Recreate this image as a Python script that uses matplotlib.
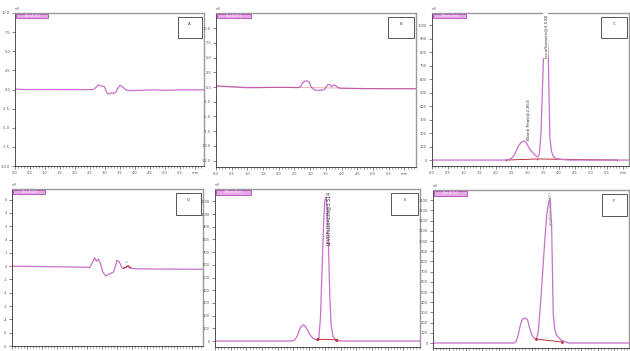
import matplotlib
matplotlib.use('Agg')
import matplotlib.pyplot as plt
import numpy as np
from matplotlib.patches import Rectangle

# values (time in min, signal)
t_a = [0.0, 0.3, 2.5, 2.62, 2.72, 2.77, 2.83, 2.9, 2.97, 3.02, 3.07, 3.13, 3.2, 3.3, 3.37, 3.45, 3.5, 3.57, 3.64,
       3.72, 3.85, 4.2, 4.6, 5.0, 5.5, 6.3]
y_a = [0.05, 0.0, -0.02, 0.0, 0.35, 0.62, 0.5, 0.45, 0.4, 0.0, -0.5, -0.6, -0.45, -0.5, -0.3, 0.3, 0.55, 0.4, 0.15,
       -0.1, -0.15, -0.1, -0.05, -0.1, -0.05, -0.05]

t_b = [0.0, 0.5, 0.9, 1.3, 1.8, 2.3, 2.6, 2.7, 2.75, 2.82, 2.9, 2.97, 3.02, 3.07, 3.15, 3.3, 3.45, 3.52, 3.56, 3.62,
       3.67, 3.7, 3.74, 3.8, 3.86, 3.95, 4.5, 5.5, 6.4]
y_b = [0.2, 0.05, -0.1, -0.1, -0.05, -0.05, -0.1, 0.1, 0.7, 1.0, 1.05, 0.8, 0.1, -0.2, -0.5, -0.55, -0.45, 0.1, 0.4,
       0.45, 0.1, 0.1, 0.35, 0.3, 0.0, -0.2, -0.25, -0.3, -0.3]

t_c = [0.0, 2.3, 2.4, 2.5, 2.6, 2.7, 2.8, 2.9, 2.97, 3.05, 3.12, 3.2, 3.28, 3.33, 3.38, 3.43, 3.48, 3.52, 3.56, 3.59,
       3.62, 3.66, 3.71, 3.76, 3.82, 3.9, 4.05, 4.3, 6.2]
y_c = [0, 0, 3, 12, 40, 95, 130, 142, 128, 92, 68, 48, 30, 22, 45, 200, 560, 840, 1010, 1035, 960, 760, 170, 65, 25,
       12, 5, 0, 0]

t_d = [0.0, 1.0, 2.5, 2.59, 2.68, 2.76, 2.81, 2.88, 2.96, 3.03, 3.12, 3.26, 3.39, 3.46, 3.5, 3.57, 3.61, 3.68, 3.76,
       3.87, 3.94, 4.14, 5.0, 6.4]
y_d = [0.0, -0.03, -0.08, -0.1, 0.28, 0.63, 0.38, 0.53, 0.13, -0.43, -0.73, -0.58, -0.43, 0.08, 0.45, 0.33, 0.18,
       -0.18, -0.13, -0.03, -0.15, -0.2, -0.22, -0.23]

t_e = [0.0, 2.45, 2.54, 2.62, 2.7, 2.77, 2.83, 2.89, 2.96, 3.04, 3.12, 3.2, 3.27, 3.31, 3.36, 3.41, 3.46, 3.5, 3.54,
       3.58, 3.62, 3.66, 3.7, 3.76, 3.85, 4.0, 6.6]
y_e = [0, 0, 8, 40, 95, 122, 126, 112, 80, 45, 22, 12, 10, 25, 190, 560, 930, 1110, 1135, 1020, 700, 330, 120, 35,
       10, 0, 0]

t_f = [0.0, 2.45, 2.52, 2.58, 2.64, 2.7, 2.76, 2.82, 2.87, 2.93, 3.0, 3.08, 3.14, 3.2, 3.29, 3.39, 3.45, 3.5, 3.55,
       3.6, 3.65, 3.7, 3.75, 3.9, 4.1, 6.1]
y_f = [0, 0, 15, 70, 160, 225, 245, 240, 230, 150, 80, 45, 38, 120, 500, 990, 1250, 1360, 1420, 1160, 280, 130, 78,
       25, 0, 0]

# integration baselines (red)
base_c_t = [2.32, 3.32, 5.83]
base_c_y = [0, 8, 0]
base_d_t = [3.72, 3.8, 3.87, 3.95]
base_d_y = [-0.15, -0.05, 0.05, -0.12]
base_e_t = [3.26, 3.85]
base_e_y = [14, 10]
base_f_t = [3.14, 3.91]
base_f_y = [38, 10]

peak_labels = {'C': ['Blank Peak@2.853', 'Levofloxacin@3.528'],
               'E': ['LEVOFLOXACIN@3.514'],
               'F': ['Levofloxacin@3.557']}
channel = ['Det.A Ch1', 'Det.A Ch1', '290nm,4nm', 'Det.A Ch1', '290nm,4nm', 'Det.A Ch1']

purple = '#c870cc'
red = '#b8323c'

fig = plt.figure(figsize=(6.3, 3.51), dpi=100)


def px_rect(l, t, r, b):
    return [l / 630, 1 - b / 351, (r - l) / 630, (b - t) / 351]


def style(ax, xmax, ylim, yticks, ylabels, letter, chan, xlabels=True):
    ax.set_xlim(0, xmax)
    ax.set_ylim(*ylim)
    xt = np.arange(0, xmax - 0.05, 0.5)
    ax.set_xticks(xt)
    xl = ['%.1f' % v for v in xt]
    xl[-1] = 'min'
    ax.set_xticklabels(xl)
    ax.set_xticks(np.arange(0, xmax, 0.1), minor=True)
    ax.set_yticks(yticks)
    ax.set_yticklabels(ylabels)
    ax.tick_params(axis='both', labelsize=2.6, length=2, width=0.5, pad=1.5, colors='#555555')
    ax.tick_params(axis='x', which='minor', length=1.2, width=0.4, colors='#555555')
    if not xlabels:
        # bottom row: labels fall below the picture in the original
        ax.tick_params(axis='x', labelbottom=False)
    for s in ['top', 'right']:
        ax.spines[s].set_color('#999999')
        ax.spines[s].set_linewidth(1.0)
    for s in ['left', 'bottom']:
        ax.spines[s].set_color('#333333')
        ax.spines[s].set_linewidth(0.6)
    # panel letter box
    ax.add_patch(Rectangle((0.86, 0.835), 0.13, 0.14, transform=ax.transAxes, fill=False,
                           edgecolor='#555555', linewidth=0.7, zorder=5))
    ax.text(0.925, 0.93, letter, transform=ax.transAxes, ha='center', va='center', fontsize=3, color='#444444')
    # channel tag
    ax.add_patch(Rectangle((0.005, 0.965), 0.17, 0.03, transform=ax.transAxes, facecolor='#e6a8e6',
                           edgecolor='#a030a8', linewidth=0.5, zorder=5))
    ax.text(0.09, 0.98, chan, transform=ax.transAxes, ha='center', va='center', fontsize=2.2, color='white',
            zorder=6)
    ax.text(0.0, 1.01, 'mV', transform=ax.transAxes, ha='left', va='bottom', fontsize=2.2, color='#555555')


# A
ax = fig.add_axes(px_rect(15, 13, 204, 166))
ax.plot(t_a, y_a, color=purple, lw=0.9)
yt = np.arange(-10, 10.1, 2.5)
style(ax, 6.3, (-10, 10), yt, ['%.1f' % v for v in yt], 'A', channel[0])

# B
ax = fig.add_axes(px_rect(216, 13, 416, 167))
ax.plot(t_b, y_b, color=purple, lw=0.9)
ax.plot([0, 6.4], [0.05, -0.3], color=red, lw=0.4, alpha=0.6)
yt = np.arange(-12.5, 10.1, 2.5)
style(ax, 6.37, (-13.6, 12.6), yt, ['%.1f' % v for v in yt], 'B', channel[1])

# C
ax = fig.add_axes(px_rect(432, 13, 629, 166))
ax.plot(base_c_t, base_c_y, color=red, lw=0.7, marker='|', ms=2, mew=0.6)
ax.plot(t_c, y_c, color=purple, lw=0.9)
ax.text(2.97, 150, peak_labels['C'][0], rotation=90, ha='left', va='bottom', fontsize=3.2, color='#333333')
ax.text(3.58, 1085, peak_labels['C'][1], rotation=90, ha='center', va='top', fontsize=3.2, color='#333333',
        bbox=dict(boxstyle='square,pad=0.1', fc='white', ec='none'))
yt = np.arange(0, 1001, 100)
style(ax, 6.2, (-44, 1089), yt, ['%d' % v for v in yt], 'C', channel[2])

# D
ax = fig.add_axes(px_rect(12, 189, 203, 346))
ax.plot(t_d, y_d, color=purple, lw=0.9)
ax.plot(base_d_t, base_d_y, color=red, lw=0.7)
ax.text(3.87, 0.3, 'E', rotation=90, ha='center', va='bottom', fontsize=2.2, color='#40b0c0')
yt = np.arange(-6, 5.1, 1)
style(ax, 6.37, (-6.0, 5.8), yt, ['%d' % v for v in yt], 'D', channel[3], xlabels=False)

# E
ax = fig.add_axes(px_rect(215, 189, 420, 347))
ax.plot(t_e, y_e, color=purple, lw=0.9)
ax.plot(base_e_t, base_e_y, color=red, lw=0.7, marker='<', ms=1.5)
ax.text(3.62, 1185, peak_labels['E'][0], rotation=90, ha='center', va='top', fontsize=3.4, color='#333333')
yt = np.arange(0, 1101, 100)
style(ax, 6.53, (-47, 1197), yt, ['%d' % v for v in yt], 'E', channel[4], xlabels=False)

# F
ax = fig.add_axes(px_rect(433, 190, 629, 348))
ax.plot(t_f, y_f, color=purple, lw=0.9)
ax.plot(base_f_t, base_f_y, color=red, lw=0.7, marker='o', ms=1)
ax.text(3.56, 1490, peak_labels['F'][0], rotation=90, ha='center', va='top', fontsize=2.4, color='#888888')
yt = np.arange(0, 1401, 100)
style(ax, 5.95, (-49, 1500), yt, ['%d' % v for v in yt], 'F', channel[5], xlabels=False)

fig.savefig('out.png', dpi=100, facecolor='white')
